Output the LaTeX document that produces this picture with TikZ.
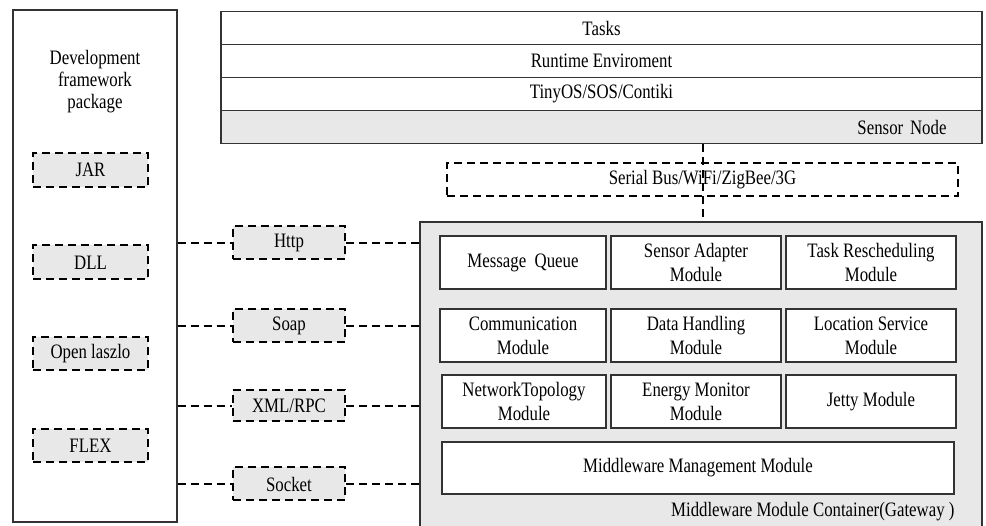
\documentclass[tikz,border=0pt]{standalone}
\usepackage{fontspec}
\setmainfont{Liberation Serif}[FakeStretch=0.82]
\begin{document}
\begin{tikzpicture}[x=1pt,y=-1pt,
  font=\fontsize{20.5}{24}\selectfont,
  solidbox/.style={draw=black!80, line width=1.1pt, rectangle, inner sep=0pt, align=center},
  modbox/.style={solidbox, fill=white},
  greybox/.style={solidbox, fill=panelgrey},
  dashbox/.style={draw=black, line width=2pt, dash pattern=on 8pt off 5pt, rectangle, inner sep=0pt, align=center, fill=panelgrey},
  dashline/.style={draw=black, line width=2pt, dash pattern=on 8pt off 5pt}]
\definecolor{panelgrey}{RGB}{232,232,232}
\useasboundingbox (0,0) rectangle (986,526);
\clip (0,0) rectangle (986,526);

% development package column
\node[modbox, minimum width=164pt, minimum height=512pt] (dev) at (95,266) {};
\node[align=center, font=\fontsize{20.5}{22}\selectfont] (devtitle) at (95,82) {Development\\framework\\package};
\node[dashbox, minimum width=115pt, minimum height=34pt] (jar) at (90.5,170) {JAR};
\node[dashbox, minimum width=115pt, minimum height=34pt] (dll) at (90.5,262.5) {DLL};
\node[dashbox, minimum width=115pt, minimum height=33pt] (laszlo) at (90.5,353.5) {Open laszlo};
\node[dashbox, minimum width=115pt, minimum height=33pt] (flex) at (90.5,446) {FLEX};

% sensor node stack
\node[modbox, minimum width=761pt, minimum height=33pt] (tasks) at (601.5,28) {Tasks};
\node[modbox, minimum width=761pt, minimum height=33pt] (runtime) at (601.5,61) {Runtime Enviroment};
\node[modbox, minimum width=761pt, minimum height=33pt] (os) at (601.5,94) {TinyOS/SOS/Contiki};
\node[greybox, minimum width=761pt, minimum height=33pt, text width=690pt, align=right] (sensor) at (601.5,127) {Sensor Node};

% serial link
\node[dashbox, fill=white, minimum width=511pt, minimum height=33pt] (serial) at (702.5,179.5) {Serial Bus/WiFi/ZigBee/3G};

% gateway container
\node[greybox, minimum width=562pt, minimum height=320pt] (gw) at (701,382) {};
\node[anchor=east] (gwlabel) at (958,512) {Middleware Module Container(Gateway )};

\node[modbox, minimum width=166pt, minimum height=53pt] (mq) at (523,262.5) {Message\ \ Queue};
\node[modbox, minimum width=170pt, minimum height=53pt] (sa) at (696,262.5) {Sensor Adapter\\Module};
\node[modbox, minimum width=170pt, minimum height=53pt] (tr) at (871,262.5) {Task Rescheduling\\Module};

\node[modbox, minimum width=166pt, minimum height=53pt] (com) at (523,335.5) {Communication\\Module};
\node[modbox, minimum width=170pt, minimum height=53pt] (dh) at (696,335.5) {Data Handling\\Module};
\node[modbox, minimum width=170pt, minimum height=53pt] (ls) at (871,335.5) {Location Service\\Module};

\node[modbox, minimum width=164pt, minimum height=53pt] (nt) at (524,401.5) {NetworkTopology\\Module};
\node[modbox, minimum width=170pt, minimum height=53pt] (em) at (696,401.5) {Energy Monitor\\Module};
\node[modbox, minimum width=170pt, minimum height=53pt] (jetty) at (871,401.5) {Jetty Module};

\node[modbox, minimum width=512pt, minimum height=52pt] (mgmt) at (698,468) {Middleware Management Module};

% protocol boxes
\node[dashbox, minimum width=112pt, minimum height=33pt] (http) at (289,243) {Http};
\node[dashbox, minimum width=112pt, minimum height=33pt] (soap) at (289,326) {Soap};
\node[dashbox, minimum width=112pt, minimum height=31pt] (xml) at (289,406) {XML/RPC};
\node[dashbox, minimum width=112pt, minimum height=33pt] (socket) at (289,484) {Socket};

% connectors
\foreach \p in {http,soap,xml,socket}{
  \draw[dashline] (dev.east |- \p.west) -- (\p.west);
  \draw[dashline] (\p.east) -- (\p.east -| gw.west);
}
\draw[dashline] (sensor.south -| serial.center) -- (serial.center |- gw.north);
\end{tikzpicture}
\end{document}
